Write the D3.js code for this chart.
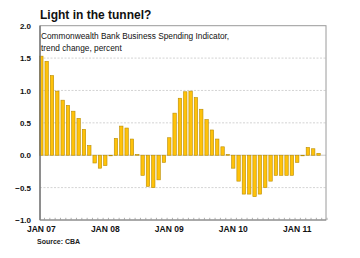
<!DOCTYPE html>
<html><head><meta charset="utf-8">
<script src="https://cdn.jsdelivr.net/npm/d3@7/dist/d3.min.js"></script>
<style>
body{margin:0;background:#fff;}
svg{display:block;font-family:"Liberation Sans",Arial,sans-serif;}
</style></head>
<body><svg id="c" width="360" height="258"></svg>
<script>
const title = "Light in the tunnel?";
const subtitle = ["Commonwealth Bank Business Spending Indicator,", "trend change, percent"];
const source = "Source: CBA";
const values = [1.53,1.45,1.23,0.99,0.85,0.77,0.68,0.57,0.40,0.15,-0.12,-0.20,-0.16,0.00,
  0.26,0.45,0.42,0.25,0.01,-0.31,-0.48,-0.50,-0.38,-0.11,0.27,0.65,0.88,0.98,0.99,0.89,
  0.71,0.55,0.39,0.25,0.13,0.01,-0.20,-0.40,-0.60,-0.60,-0.64,-0.60,-0.50,-0.40,-0.31,
  -0.31,-0.31,-0.31,-0.11,0.00,0.12,0.10,0.03];
const xLabels = ["JAN 07","JAN 08","JAN 09","JAN 10","JAN 11"];
const xLabelIdx = [0,12,24,36,48];
const yTicks = [-1.0,-0.5,0.0,0.5,1.0,1.5,2.0];

const svg = d3.select("#c");
const L=40, R=326, T=25.7, B=220;
const x = d3.scaleLinear().domain([-0.25, 53.4]).range([L, R]);
const y = d3.scaleLinear().domain([-1, 2]).range([B, T]);

// grid
svg.append("g").selectAll("line").data(yTicks.filter(v=>v>-1 && v<2 && v!==0)).join("line")
  .attr("x1",L).attr("x2",R).attr("y1",d=>y(d)).attr("y2",d=>y(d))
  .attr("stroke","#c8c8c8").attr("stroke-width",0.8).attr("stroke-dasharray","2,1.5");
svg.append("line").attr("x1",L).attr("x2",R).attr("y1",y(0)).attr("y2",y(0))
  .attr("stroke","#bdbdbd").attr("stroke-width",0.8);

// bars
const bw = 3.4;
svg.append("g").selectAll("rect").data(values).join("rect")
  .attr("x",(d,i)=>x(i)-bw/2).attr("width",bw)
  .attr("y",d=>y(Math.max(0,d))).attr("height",d=>Math.max(0.6,Math.abs(y(d)-y(0))))
  .attr("fill","#FFC20A").attr("stroke","#B98C00").attr("stroke-width",0.6);

// frame
svg.append("rect").attr("x",L).attr("y",T).attr("width",R-L).attr("height",B-T)
  .attr("fill","none").attr("stroke","#9a9a9a").attr("stroke-width",1);
svg.append("line").attr("x1",L).attr("x2",L).attr("y1",T).attr("y2",B)
  .attr("stroke","#666").attr("stroke-width",1.2);
svg.append("line").attr("x1",L).attr("x2",R).attr("y1",B).attr("y2",B)
  .attr("stroke","#888").attr("stroke-width",1);

// month ticks (inside)
const tickPos = d3.range(0, 54).map(i=>i+0.5);
const xAxis = d3.axisBottom(x).tickValues(tickPos).tickSize(-2.2).tickFormat("");
const gx = svg.append("g").attr("transform",`translate(0,${B})`).call(xAxis);
gx.select(".domain").remove();
gx.selectAll("line").attr("stroke","#999").attr("stroke-width",0.8);

// x labels
svg.append("g").selectAll("text").data(xLabelIdx).join("text")
  .attr("x",d=>x(d)).attr("y",232).attr("text-anchor","middle")
  .attr("font-size",8.5).attr("font-weight","bold").attr("fill","#111")
  .text((d,i)=>xLabels[i]);

// y axis labels
const yAxis = d3.axisLeft(y).tickValues(yTicks).tickSize(0).tickPadding(9).tickFormat(d3.format(".1f"));
const gy = svg.append("g").attr("transform",`translate(${L},0)`).call(yAxis);
gy.select(".domain").remove();
gy.selectAll("text").attr("font-size",8).attr("font-weight","bold").attr("fill","#111")
  .attr("font-family","'Liberation Sans',Arial,sans-serif");

// title
svg.append("text").attr("x",40).attr("y",19).attr("font-size",12).attr("font-weight","bold")
  .attr("fill","#111").text(title);
svg.append("g").selectAll("text").data(subtitle).join("text")
  .attr("x",41).attr("y",(d,i)=>39+i*11.5).attr("font-size",8.3).attr("fill","#111").text(d=>d);
svg.append("text").attr("x",37).attr("y",244).attr("font-size",7).attr("font-weight","bold")
  .attr("fill","#222").text(source);
</script></body></html>
